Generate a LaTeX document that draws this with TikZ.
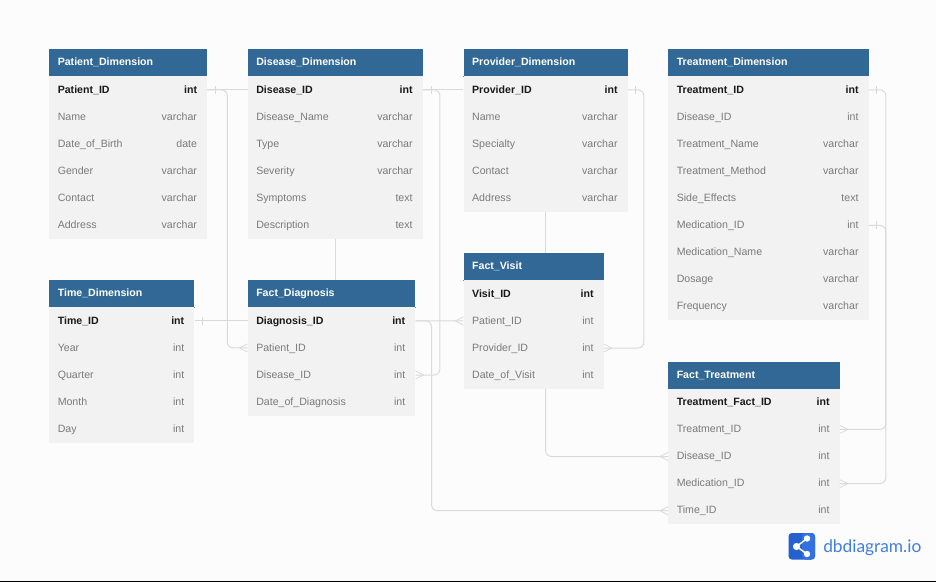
\documentclass[tikz,border=0pt]{standalone}
\usepackage{fontspec}
\setmainfont{Liberation Sans}
\newfontfamily\logofont{Lato}
\definecolor{pagebg}{HTML}{FCFCFC}
\definecolor{headbg}{HTML}{316896}
\definecolor{headln}{HTML}{5E8DB8}
\definecolor{rowbg}{HTML}{F2F2F2}
\definecolor{muted}{HTML}{7A7A7A}
\definecolor{strong}{HTML}{1A1A1A}
\definecolor{conline}{HTML}{DADADA}
\definecolor{logoA}{HTML}{2460CF}
\definecolor{logoB}{HTML}{3272E0}
\definecolor{logoT}{HTML}{3F7FE3}
\tikzset{
  x=0.75pt,y=-0.75pt,
  headbox/.style={fill=headbg,draw=none,inner sep=0pt,anchor=north west,minimum height=20.25pt},
  rowbox/.style={fill=rowbg,draw=none,inner sep=0pt,anchor=north west,minimum height=20.33pt},
  headtext/.style={text=white,font=\fontsize{7.95}{10}\selectfont\bfseries,inner sep=0pt,anchor=base west},
  fieldkey/.style={text=strong,font=\fontsize{7.95}{10}\selectfont\bfseries,inner sep=0pt,anchor=base west},
  fieldplain/.style={text=muted,font=\fontsize{7.95}{10}\selectfont,inner sep=0pt,anchor=base west},
  typekey/.style={text=strong,font=\fontsize{7.95}{10}\selectfont\bfseries,inner sep=0pt,anchor=base east},
  typeplain/.style={text=muted,font=\fontsize{7.95}{10}\selectfont,inner sep=0pt,anchor=base east},
  conn/.style={draw=conline,line width=0.75pt,rounded corners=4.5pt},
  endmark/.style={draw=conline,line width=0.6pt},
}
% \ertable{id}{x}{y}{width}{title}{rows}
\newcommand{\ertable}[6]{%
  \node[headbox,minimum width=#4*0.75pt] (#1) at (#2,#3) {};
  \node[headtext] (#1T) at (#2+8.5,#3+16.5) {#5};
  \draw[headln,line width=0.5pt] (#1.south west) -- (#1.south east);
  \foreach \fname/\ftype [count=\i] in {#6} {
    \ifnum\i=1
      \node[rowbox,minimum width=#4*0.75pt] (#1r\i) at (#2,#3+27+27.1*\i-27.1) {};
      \node[fieldkey] (#1n\i) at (#2+8.5,#3+44+27.1*\i-27.1) {\fname};
      \node[typekey] (#1y\i) at (#2+#4-9.5,#3+44+27.1*\i-27.1) {\ftype};
    \else
      \node[rowbox,minimum width=#4*0.75pt] (#1r\i) at (#2,#3+27+27.1*\i-27.1) {};
      \node[fieldplain] (#1n\i) at (#2+8.5,#3+44+27.1*\i-27.1) {\fname};
      \node[typeplain] (#1y\i) at (#2+#4-9.5,#3+44+27.1*\i-27.1) {\ftype};
    \fi
  }%
}
% one end at a table's west/east side
\newcommand{\crowW}[1]{\draw[endmark] (#1.west) ++(-8,0) -- ++(8,-4) (#1.west) ++(-8,0) -- ++(8,4);}
\newcommand{\crowE}[1]{\draw[endmark] (#1.east) ++(8,0) -- ++(-8,-4) (#1.east) ++(8,0) -- ++(-8,4);}
\newcommand{\tickE}[1]{\draw[endmark] (#1.east) ++(8,-4) -- ++(0,8);}
\begin{document}
\begin{tikzpicture}
\useasboundingbox (0,0) rectangle (936,582);
\fill[pagebg] (0,0) rectangle (936,582);
\fill[black] (0,580.8) rectangle (936,582);

\ertable{pat}{49}{49}{157.8}{Patient\_Dimension}{Patient\_ID/int,Name/varchar,Date\_of\_Birth/date,Gender/varchar,Contact/varchar,Address/varchar}
\ertable{dis}{247.5}{49}{174.9}{Disease\_Dimension}{Disease\_ID/int,Disease\_Name/varchar,Type/varchar,Severity/varchar,Symptoms/text,Description/text}
\ertable{pro}{463.4}{49}{163.9}{Provider\_Dimension}{Provider\_ID/int,Name/varchar,Specialty/varchar,Contact/varchar,Address/varchar}
\ertable{tre}{668}{49}{200.3}{Treatment\_Dimension}{Treatment\_ID/int,Disease\_ID/int,Treatment\_Name/varchar,Treatment\_Method/varchar,Side\_Effects/text,Medication\_ID/int,Medication\_Name/varchar,Dosage/varchar,Frequency/varchar}
\ertable{tim}{49}{280}{145}{Time\_Dimension}{Time\_ID/int,Year/int,Quarter/int,Month/int,Day/int}
\ertable{fdg}{247.5}{280}{167.5}{Fact\_Diagnosis}{Diagnosis\_ID/int,Patient\_ID/int,Disease\_ID/int,Date\_of\_Diagnosis/int}
\ertable{fvi}{463.4}{253}{139.9}{Fact\_Visit}{Visit\_ID/int,Patient\_ID/int,Provider\_ID/int,Date\_of\_Visit/int}
\ertable{ftr}{668}{361.5}{171.3}{Fact\_Treatment}{Treatment\_Fact\_ID/int,Treatment\_ID/int,Disease\_ID/int,Medication\_ID/int,Time\_ID/int}

% connectors
\draw[conn] (patr1.east) -- (disr1.west);
\draw[conn] (patr1.east) -- ++(20,0) |- (fdgr2.west);
\draw[conn] (disr1.east) -- (pror1.west);
\draw[conn] (disr1.east) -- ++(17,0) |- (fdgr3.east);
\draw[conn] (disr6.south) -- (disr6.south |- fdg.north);
\draw[conn] (pror5.south) -- (pror5.south |- fvi.north);
\draw[conn] (pror1.east) -- ++(16,0) |- (fvir3.east);
\draw[conn] (fvir4.south) ++(12,0) coordinate (fviout) -- (fviout |- ftrr3.west) -- (ftrr3.west);
\draw[conn] (trer1.east) -- ++(17,0) |- (ftrr2.east);
\draw[conn] (trer6.east) -- ++(17,0) |- (ftrr4.east);
\draw[conn] (timr1.east) -- (fdgr1.west);
\draw[conn] (fdgr1.east) -- (fvir2.west);
\draw[conn] (fdgr1.east) -- ++(16,0) |- (ftrr5.west);

% cardinality marks
\tickE{patr1}\tickE{disr1}\tickE{pror1}\tickE{trer1}\tickE{trer6}\tickE{timr1}
\crowW{fdgr2}\crowE{fdgr3}\crowW{fvir2}\crowE{fvir3}\crowW{ftrr3}\crowW{ftrr5}\crowE{ftrr2}\crowE{ftrr4}

% logo
\fill[logoA,rounded corners=2.5pt] (788.5,533) rectangle (815,559.5);
\fill[logoB,rounded corners=2.5pt] (802,533) rectangle (815,559.5);
\draw[white,line width=1.1pt] (807,538.5) -- (796.5,546.5) -- (807,554);
\fill[white] (796.5,546.5) circle (3.6) (807,538.5) circle (3.2) (807,554) circle (3.2);
\node[text=logoT,font=\logofont\fontsize{13}{15}\selectfont,inner sep=0pt,anchor=base west] (logotext) at (823,552.5) {dbdiagram.io};
\end{tikzpicture}
\end{document}
